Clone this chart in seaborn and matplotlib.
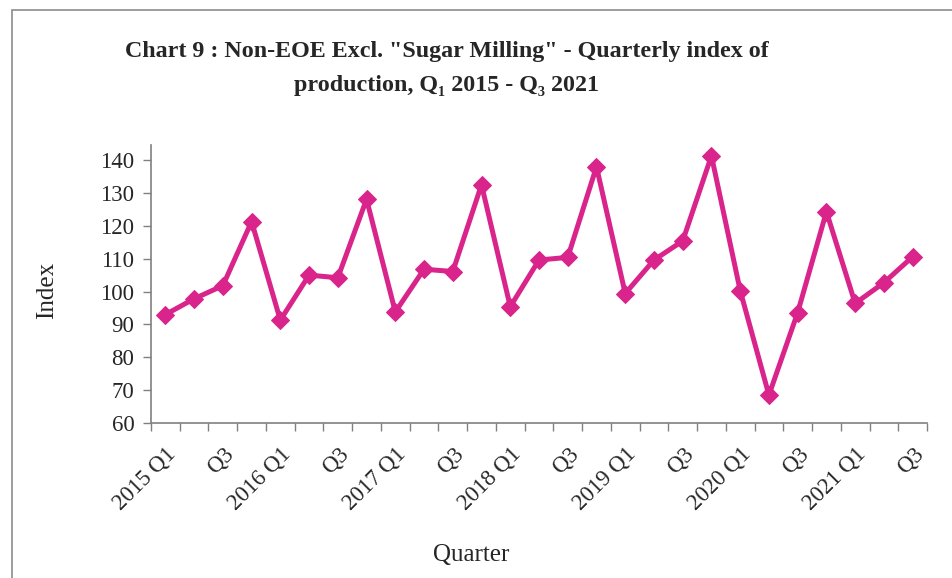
import matplotlib
matplotlib.use("Agg")
import matplotlib.pyplot as plt
import seaborn as sns
import pandas as pd
from matplotlib.patches import Rectangle

# quarterly index values, 2015 Q1 .. 2021 Q3
years = [2015, 2016, 2017, 2018, 2019, 2020, 2021]
quarters = [f"{y} Q{q}" for y in years for q in (1, 2, 3, 4)][:27]
index_values = [
    93.0, 97.8, 101.8, 121.3,
    91.3, 105.0, 104.2, 128.1,
    93.8, 106.8, 106.1, 132.5,
    95.4, 109.6, 110.4, 138.0,
    99.4, 109.6, 115.4, 141.3,
    100.3, 68.5, 93.6, 124.3,
    96.4, 102.7, 110.6,
]
tick_labels = []
for i, q in enumerate(quarters):
    if i % 2:
        tick_labels.append("")
    elif q.endswith("Q1"):
        tick_labels.append(q)
    else:
        tick_labels.append(q.split(" ")[1])

df = pd.DataFrame({"pos": range(len(quarters)), "Quarter": quarters, "Index": index_values})

sns.set_theme(style="white")
plt.rcParams["font.family"] = ["Liberation Serif", "DejaVu Serif"]

fig = plt.figure(figsize=(9.52, 5.78), dpi=100)
ax = fig.add_axes([151 / 952, 155 / 578, 776 / 952, 278 / 578])

color = "#D9258B"
sns.lineplot(data=df, x="pos", y="Index", ax=ax, color=color, linewidth=3.6,
             marker="D", markersize=9, markeredgecolor=color, markerfacecolor=color)

ax.set_xlim(-0.5, len(quarters) - 0.5)
ax.set_ylim(60, 144.6)
ax.set_yticks(range(60, 141, 10))
ax.set_yticklabels([str(v) for v in range(60, 141, 10)], fontsize=16.5)
ax.set_xticks(df["pos"])
ax.set_xticklabels(tick_labels, rotation=45, ha="right", rotation_mode="anchor", fontsize=16.5)
ax.set_xticks([p - 0.5 for p in range(len(quarters) + 1)], minor=True)
ax.tick_params(axis="x", which="major", length=0, pad=15)
ax.tick_params(axis="x", which="minor", length=6, width=1, color="#808080", direction="out", bottom=True)
ax.tick_params(axis="y", length=6, width=1, color="#808080", direction="out", left=True, pad=6)

for side in ("top", "right"):
    ax.spines[side].set_visible(False)
for side in ("left", "bottom"):
    ax.spines[side].set_color("#808080")
    ax.spines[side].set_linewidth(1.2)

ax.set_xlabel("")
ax.set_ylabel("")
fig.text(47 / 952, 1 - 290 / 578, "Index", rotation=90, ha="center", va="center", fontsize=18)
fig.text(471 / 952, 1 - 555 / 578, "Quarter", ha="center", va="center", fontsize=18)

fig.text(447 / 952, 1 - 52 / 578,
         "Chart 9 : Non-EOE Excl. \"Sugar Milling\" - Quarterly index of",
         ha="center", va="center", fontsize=17.3, fontweight="bold")
fig.text(446 / 952, 1 - 85 / 578, "production, Q\u2081 2015 - Q\u2083 2021",
         ha="center", va="center", fontsize=17.3, fontweight="bold")

# outer chart frame
fig.patches.append(Rectangle((12 / 952, -0.05), 1.1, 1 - 10 / 578 + 0.05,
                             transform=fig.transFigure, fill=False,
                             edgecolor="#8c8c8c", linewidth=1.2))

fig.savefig("out.png", dpi=100)
